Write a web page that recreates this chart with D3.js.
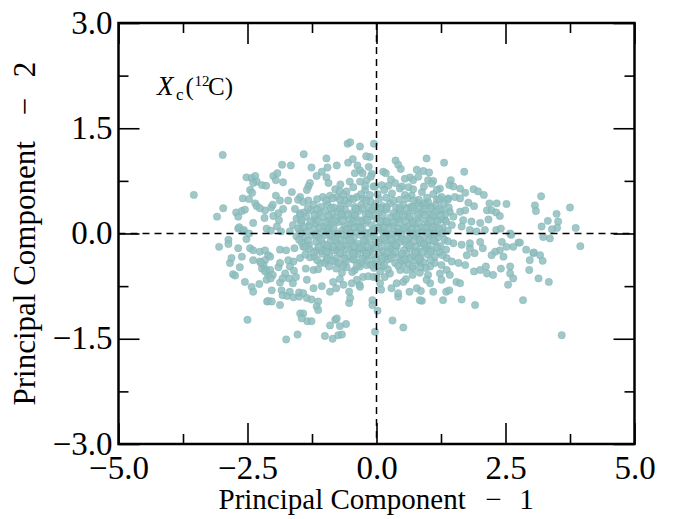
<!DOCTYPE html>
<html>
<head>
<meta charset="utf-8">
<script src="https://cdn.jsdelivr.net/npm/d3@7"></script>
<style>
  html, body { margin: 0; padding: 0; background: #fff; }
  svg { display: block; }
  text { font-family: "Liberation Serif", "DejaVu Serif", serif; fill: #000; }
</style>
</head>
<body>
<div id="chart"></div>
<script>
// ---- Data ----
const xMajorTicks = [-5, -2.5, 0, 2.5, 5];
const xMinorTicks = [-3.75, -1.25, 1.25, 3.75];
const yMajorTicks = [-3, -1.5, 0, 1.5, 3];
const yMinorTicks = [-2.25, -0.75, 0.75, 2.25];
const axisLabelText = "Principal Component";
const xLabelIndex = "1";
const yLabelIndex = "2";

// sparse / outer points [PC1, PC2]
const outerPoints = [
[-3.54,0.55],[-2.98,1.12],[-3.09,0.24],[-2.97,0.36],[-2.87,-0.09],[-2.87,-0.15],[-3.05,-0.19],[-2.72,0.30],[-2.68,0.24],[-2.61,0.32],
[-2.55,0.34],[-2.52,0.80],[-2.42,0.79],[-2.35,0.82],[-2.32,0.74],[-2.39,0.72],[-2.22,0.69],[-2.14,0.68],[-2.45,0.62],[-2.41,0.58],
[-2.59,0.50],[-2.47,0.49],[-2.35,0.43],[-2.32,0.39],[-2.16,0.33],[-2.26,0.36],[-2.39,0.15],[-2.68,0.07],[-2.58,0.03],[-2.52,-0.08],
[-2.68,-0.21],[-2.45,-0.21],[-2.39,-0.24],[-2.26,-0.26],[-2.16,-0.24],[-2.10,-0.31],[-2.26,-0.40],[-2.16,-0.38],[-2.06,-0.33],[-2.19,-0.45],
[-2.22,-0.50],[-2.13,-0.52],[-2.10,-0.59],[-2.84,-0.42],[-2.65,-0.48],[-2.78,-0.58],[-2.74,-0.60],[-2.55,-0.69],[-2.42,-0.76],[-2.39,-0.83],
[-2.27,-0.72],[-2.12,-0.97],[-2.50,-1.23],[-2.81,-0.35],[-2.61,-0.33],[-2.39,-0.38],[-2.24,-0.42],[-2.16,-0.54],[-2.06,-0.52],[-2.01,-0.59],
[-1.90,-0.48],[-2.13,-0.66],[-2.05,-0.64],[-1.87,-0.70],[-2.03,-0.81],[-2.10,-0.96],[-2.03,-0.97],[-1.87,-1.02],[-1.84,-0.81],[-1.82,-0.88],
[-1.73,-0.89],[-1.68,-0.83],[-1.69,-0.64],[-1.56,-0.62],[-1.62,-0.71],[-1.61,-0.91],[-1.50,-0.90],[-1.50,-0.84],[-1.42,-0.85],[-1.35,-0.92],
[-1.26,-0.94],[-1.13,-0.97],[-1.16,-1.04],[-1.13,-1.09],[-1.35,-0.66],[-1.22,-0.78],[-1.06,-0.75],[-0.90,-0.83],[-0.78,-0.78],[-1.48,-1.14],
[-1.42,-1.14],[-1.45,-1.21],[-1.34,-1.25],[-1.26,-1.25],[-1.75,-1.51],[-1.53,-1.44],[-1.00,-1.46],[-0.85,-1.50],[-0.90,-1.31],[-0.80,-1.23],
[-0.77,-1.21],[-0.71,-1.32],[-0.59,-1.29],[-0.74,-1.45],[-0.67,-1.44],[-0.53,-0.99],[-0.51,-0.92],[-0.53,-0.83],[-0.64,-0.73],[-0.48,-0.71],
[-0.33,-0.73],[-0.26,-0.62],[-0.16,-0.61],[-0.06,-0.62],[-0.08,-0.95],[-0.08,-1.02],[0.02,-1.10],[-0.03,-1.40],[-0.67,-0.56],[-0.58,-0.48],
[-0.42,-0.52],[-0.32,-0.47],[-0.19,-0.45],[-1.09,-0.42],[-0.97,-0.38],[-0.80,-0.40],[-1.22,-0.52],[-1.13,-0.51],[-1.37,-0.50],[-1.29,-0.34],
[-1.48,-0.35],[-1.61,-0.40],[-1.68,-0.47],[-1.60,-0.53],[-1.87,-0.42],[-1.71,-0.38],[-1.87,-0.23],[-1.75,-0.24],[-1.59,-0.21],[-1.42,-0.19],
[-1.16,-0.24],[-0.97,-0.21],[-0.77,-0.24],[-0.51,-0.21],[-0.26,-0.24],[-0.06,-0.21],[-1.77,-0.57],[-1.82,-0.64],[-0.38,-0.66],[-0.32,-0.76],
[-0.71,-0.65],[-0.84,-0.69],
[0.31,-1.24],[0.52,-1.34],[3.59,-1.45],[2.84,-0.95],[1.91,-1.02],[1.65,-0.94],[1.29,-0.95],[0.88,-0.96],[0.78,-0.78],[0.42,-0.90],
[0.42,-0.85],[0.64,-0.83],[0.86,-0.82],[1.10,-0.83],[1.35,-0.83],[1.41,-0.81],[0.29,-0.78],[0.39,-0.71],[0.52,-0.69],[0.57,-0.65],
[0.09,-0.80],[0.07,-0.71],[0.16,-0.62],[0.00,-0.62],[0.70,-0.59],[0.84,-0.56],[1.00,-0.59],[1.04,-0.71],[0.97,-0.66],[1.23,-0.57],
[1.36,-0.52],[1.42,-0.59],[1.26,-0.66],[1.55,-0.69],[1.62,-0.71],[1.59,-0.42],[1.72,-0.45],[1.89,-0.54],[2.01,-0.52],[2.14,-0.57],
[2.26,-0.59],[2.12,-0.47],[2.41,-0.50],[2.59,-0.47],[2.59,-0.57],[2.65,-0.64],[2.55,-0.73],[2.96,-0.52],[3.14,-0.64],[3.34,-0.69],
[2.97,-0.38],[3.04,-0.28],[3.17,-0.31],[3.22,-0.39],[2.90,-0.23],[2.75,-0.13],[2.65,-0.19],[2.52,-0.19],[2.46,-0.33],[2.39,-0.24],
[2.30,-0.26],[2.23,-0.31],[3.23,-0.05],[3.36,-0.07],[2.61,-0.02],[2.43,-0.12],[2.06,-0.21],[1.90,-0.28],[1.75,-0.31],[1.81,-0.21],
[2.01,-0.12],[1.81,-0.14],[1.65,-0.16],[1.49,-0.14],[1.35,-0.23],[1.36,-0.35],[1.46,-0.40],[1.13,-0.42],[1.26,-0.45],[1.04,-0.47],
[0.84,-0.42],[0.71,-0.50],[0.52,-0.42],[0.46,-0.52],[0.26,-0.57],[0.10,-0.47],[0.07,-0.54],[0.84,-0.95],
[3.19,0.53],[3.07,0.40],[3.09,0.32],[3.75,0.37],[3.49,0.28],[3.52,0.17],[3.50,0.08],[3.32,0.18],[3.20,0.10],[3.86,0.08],
[2.78,-0.13],[3.05,-0.27],[3.95,-0.18],[3.40,0.06],
[-0.05,1.28],[-0.13,1.09],[0.97,1.07],[1.31,1.01],[0.37,1.04],[0.42,0.98],[0.47,0.92],[1.70,0.88],[0.13,0.88],[0.18,0.86],
[0.78,0.91],[0.91,0.89],[1.02,0.87],[0.65,0.80],[0.71,0.76],[0.81,0.81],[1.00,0.76],[1.10,0.75],[1.07,0.71],[1.44,0.76],
[1.41,0.69],[1.49,0.67],[1.23,0.64],[1.17,0.62],[-0.03,0.67],[0.10,0.69],[0.23,0.68],[0.36,0.72],[0.49,0.67],[0.62,0.66],
[0.88,0.59],[0.71,0.63],[1.62,0.64],[1.72,0.58],[1.88,0.63],[1.97,0.60],[2.08,0.55],[1.10,0.56],[1.26,0.52],[1.39,0.50],
[1.52,0.52],[1.62,0.50],[1.78,0.44],[1.89,0.39],[2.14,0.33],[2.19,0.43],[2.33,0.43],[2.52,0.42],[2.23,0.33],[2.32,0.30],
[2.39,0.25],[2.32,0.05],[2.41,0.07],[2.59,0.00],[1.38,0.48],[1.17,0.48],[1.00,0.45],[0.91,0.43],[0.84,0.38],[1.07,0.38],
[1.26,0.33],[1.42,0.31],[1.62,0.31],[1.72,0.33],[1.49,0.24],[1.68,0.19],[1.84,0.17],[2.01,0.15],[2.17,0.20],[1.33,0.19],
[1.46,0.12],[1.65,0.10],[1.81,0.05],[1.94,0.03],[2.10,0.05],
[-0.56,1.28],[-0.51,1.30],[-0.32,1.24],[-1.41,1.13],[-0.20,1.10],[-0.97,1.07],[-1.83,0.98],[-1.66,0.97],[-1.26,0.94],[-0.95,0.94],
[-0.77,0.97],[-0.55,1.01],[-0.46,1.06],[-0.37,0.97],[-0.32,0.90],[-0.15,0.95],[-0.09,0.85],[-1.06,0.88],[-1.16,0.82],[-2.00,0.82],
[-1.92,0.86],[-1.95,0.76],[-1.81,0.73],[-0.97,0.80],[-0.93,0.72],[-1.29,0.72],[-1.32,0.67],[-1.35,0.62],[-0.52,0.74],[-0.42,0.86],
[-0.27,0.86],[-0.32,0.74],[-0.19,0.76],[-0.11,0.81],[-1.64,0.59],[-0.80,0.63],[-0.71,0.60],[-0.58,0.60],[-0.22,0.62],[-0.06,0.67],
[-1.95,0.54],[-1.87,0.47],[-1.48,0.52],[-1.52,0.48],[-1.71,0.47],[-1.04,0.52],[-0.90,0.54],[-0.77,0.52],[-0.64,0.55],[-0.51,0.50],
[-0.38,0.52],[-0.26,0.50],[-0.13,0.55],[-2.04,0.37],[-2.01,0.41],[-2.17,0.22],[-2.00,0.25],[-1.90,0.29],[-1.81,0.35],[-1.89,0.19],
[-1.58,0.35],[-1.48,0.29],[-1.42,0.45],[-1.32,0.47],[-2.66,0.09],[-2.57,0.05],[-2.47,0.00],[-2.13,0.07],[-2.05,0.04],[-1.93,0.10],
[-1.85,0.03],[-1.68,0.03],[-1.48,0.05]
];

// dense central cloud [PC1, PC2]
const corePoints = [
[-1.22,0.41],[-1.08,0.38],[-0.95,0.42],[-0.83,0.37],[-0.69,0.40],[-0.55,0.43],[-0.42,0.38],[-0.29,0.41],[-0.15,0.37],[-0.02,0.42],
[0.12,0.39],[0.26,0.43],[0.38,0.37],[0.52,0.41],[0.66,0.38],[0.79,0.44],[0.95,0.40],[1.15,0.41],[1.30,0.42],
[-1.40,0.30],[-1.27,0.33],[-1.12,0.29],[-0.99,0.32],[-0.86,0.28],[-0.74,0.31],[-0.61,0.34],[-0.48,0.29],[-0.35,0.32],[-0.21,0.28],
[-0.08,0.33],[0.05,0.30],[0.19,0.34],[0.33,0.29],[0.46,0.32],[0.60,0.28],[0.73,0.33],[0.88,0.30],[1.02,0.27],[1.16,0.31],[1.33,0.27],
[-1.55,0.21],[-1.36,0.24],[-1.20,0.20],[-1.06,0.23],[-0.92,0.19],[-0.79,0.22],[-0.66,0.25],[-0.53,0.20],[-0.40,0.23],[-0.27,0.19],
[-0.13,0.24],[0.00,0.21],[0.14,0.18],[0.27,0.23],[0.41,0.20],[0.54,0.24],[0.68,0.19],[0.82,0.22],[0.97,0.18],[1.10,0.23],[1.24,0.20],
[-1.62,0.12],[-1.46,0.15],[-1.31,0.11],[-1.17,0.14],[-1.03,0.10],[-0.89,0.13],[-0.75,0.16],[-0.62,0.11],[-0.48,0.14],[-0.35,0.10],
[-0.22,0.15],[-0.09,0.12],[0.05,0.09],[0.19,0.14],[0.32,0.11],[0.46,0.15],[0.60,0.10],[0.73,0.13],[0.87,0.09],[1.00,0.14],[1.14,0.11],[1.28,0.08],
[-1.35,0.03],[-1.21,0.06],[-1.07,0.02],[-0.94,0.05],[-0.80,0.01],[-0.67,0.04],[-0.54,0.07],[-0.40,0.02],[-0.27,0.05],[-0.14,0.01],
[0.10,0.04],[0.24,0.07],[0.38,0.02],[0.51,0.05],[0.65,0.01],[0.78,0.06],[0.92,0.03],[1.06,0.06],[1.20,0.01],[1.38,0.04],
[-1.55,-0.04],[-1.40,-0.07],[-1.26,-0.03],[-1.12,-0.06],[-0.98,-0.02],[-0.85,-0.05],[-0.71,-0.08],[-0.58,-0.03],[-0.44,-0.06],[-0.31,-0.02],
[-0.18,-0.07],[-0.05,-0.04],[0.09,-0.08],[0.22,-0.03],[0.36,-0.06],[0.49,-0.02],[0.63,-0.07],[0.77,-0.04],[0.90,-0.08],[1.04,-0.03],[1.18,-0.06],[1.32,-0.09],
[-1.45,-0.13],[-1.31,-0.16],[-1.17,-0.12],[-1.03,-0.15],[-0.89,-0.11],[-0.76,-0.14],[-0.63,-0.17],[-0.49,-0.12],[-0.36,-0.15],[-0.22,-0.11],
[-0.09,-0.16],[0.04,-0.13],[0.18,-0.10],[0.31,-0.15],[0.45,-0.12],[0.58,-0.16],[0.72,-0.11],[0.86,-0.14],[0.99,-0.17],[1.13,-0.12],[1.24,-0.18],
[-1.30,-0.22],[-1.06,-0.25],[-0.92,-0.21],[-0.82,-0.24],[-0.68,-0.20],[-0.55,-0.23],[-0.41,-0.26],[-0.28,-0.21],[-0.15,-0.24],[-0.01,-0.20],
[0.12,-0.25],[0.26,-0.22],[0.39,-0.19],[0.53,-0.24],[0.66,-0.21],[0.80,-0.25],[0.94,-0.20],[1.08,-0.23],[1.22,-0.27],
[-1.38,-0.30],[-1.20,-0.33],[-1.05,-0.29],[-0.91,-0.32],[-0.77,-0.35],[-0.64,-0.30],[-0.50,-0.33],[-0.37,-0.29],[-0.23,-0.34],[-0.10,-0.31],
[0.04,-0.28],[0.17,-0.33],[0.31,-0.30],[0.44,-0.34],[0.58,-0.29],[0.71,-0.32],[0.85,-0.35],[0.99,-0.30],[1.13,-0.33],
[-1.00,-0.42],[-0.86,-0.39],[-0.72,-0.43],[-0.59,-0.40],[-0.45,-0.37],[-0.32,-0.42],[-0.18,-0.39],[-0.05,-0.43],[0.09,-0.40],[0.22,-0.37],
[0.36,-0.42],[0.49,-0.39],[0.63,-0.43],[0.77,-0.38],[0.91,-0.41],
[-0.78,-0.50],[-0.47,-0.55],[-0.05,-0.49],[0.22,-0.51],[0.58,-0.52],[0.95,-0.49],
[-0.88,0.36],[-0.62,0.47],[-0.40,0.35],[-0.12,0.46],[0.08,0.36],[0.33,0.47],[0.58,0.35],[0.82,0.48],[1.05,0.36],
[-0.80,0.18],[-0.55,0.27],[-0.30,0.17],[-0.05,0.27],[0.20,0.17],[0.44,0.27],[0.70,0.16],[0.94,0.26],[1.18,0.17],
[-0.92,0.08],[-0.68,-0.01],[-0.42,0.09],[-0.20,-0.00],[0.02,0.08],[0.28,-0.01],[0.55,0.08],[0.80,-0.00],[1.08,0.09],
[-0.85,-0.19],[-0.58,-0.10],[-0.33,-0.20],[-0.03,-0.09],[0.24,-0.18],[0.50,-0.08],[0.76,-0.19],[1.02,-0.09],
[-0.70,-0.28],[-0.44,-0.37],[-0.16,-0.27],[0.10,-0.36],[0.37,-0.26],[0.64,-0.36],[0.90,-0.26],
[-0.30,0.56],[0.02,0.56],[0.30,0.57],[0.55,0.55],[0.15,0.62],[0.45,0.64],[0.68,0.54],[0.92,0.67],[-0.45,0.66],[-0.70,0.70],
[0.28,0.77],[0.55,0.78],[-0.22,0.68],
[-1.15,0.49],[-0.98,0.47],[-0.85,0.50],[-0.71,0.48],[-0.45,0.49],[-0.20,0.47],[0.05,0.49],[0.19,0.51],[0.45,0.48],[0.60,0.50],[0.72,0.47],[0.98,0.51],[1.22,0.49],
[-1.33,0.36],[-1.15,0.34],[-0.70,0.35],[-0.27,0.36],[-0.03,0.38],[0.20,0.37],[0.45,0.36],[0.70,0.37],[0.92,0.35],[1.22,0.35],[1.40,0.37],
[-1.48,0.26],[-1.20,0.26],[-0.93,0.25],[-0.68,0.28],[-0.42,0.26],[-0.15,0.27],[0.12,0.26],[0.38,0.25],[0.65,0.24],[0.80,0.27],[1.10,0.26],[1.25,0.25],
[-1.45,0.19],[-1.28,0.17],[-1.13,0.18],[-0.98,0.16],[-0.65,0.18],[-0.45,0.17],[-0.18,0.19],[0.07,0.17],[0.33,0.16],[0.55,0.18],[0.83,0.16],[1.05,0.18],[1.35,0.17],
[-1.52,0.07],[-1.40,0.09],[-1.10,0.08],[-0.83,0.07],[-0.58,0.06],[-0.31,0.07],[-0.05,0.06],[0.15,0.08],[0.42,0.07],[0.68,0.06],[0.95,0.08],[1.22,0.06],
[-1.47,0.00],[-1.18,-0.01],[-0.92,-0.01],[-0.50,0.00],[-0.10,0.02],[0.14,0.00],[0.42,0.01],[0.70,-0.01],[0.98,0.01],[1.12,-0.01],[1.28,0.00],
[-1.50,-0.09],[-1.33,-0.10],[-1.07,-0.09],[-0.80,-0.09],[-0.52,-0.09],[-0.25,-0.10],[0.15,-0.07],[0.30,-0.09],[0.57,-0.10],[0.84,-0.09],[1.10,-0.10],[1.38,-0.11],
[-1.38,-0.19],[-1.12,-0.19],[-0.95,-0.17],[-0.70,-0.18],[-0.43,-0.18],[-0.17,-0.19],[0.10,-0.18],[0.37,-0.17],[0.64,-0.17],[0.92,-0.15],[1.18,-0.20],
[-1.22,-0.27],[-0.97,-0.26],[-0.45,-0.29],[-0.20,-0.29],[0.21,-0.27],[0.49,-0.29],[0.75,-0.27],[1.05,-0.26],[1.28,-0.31],
[-1.15,-0.38],[-0.95,-0.36],[-0.62,-0.36],[-0.28,-0.36],[-0.02,-0.37],[0.28,-0.35],[0.55,-0.37],[0.82,-0.36],[1.05,-0.38],
[-0.92,-0.47],[-0.65,-0.46],[-0.38,-0.46],[-0.10,-0.45],[0.15,-0.45],[0.42,-0.46],[0.70,-0.47],[0.85,-0.48]
];

// ---- Layout ----
const W = 680, H = 519;
const frame = { left: 118.5, right: 634.5, top: 23, bottom: 444 };

const svg = d3.select("#chart").append("svg").attr("width", W).attr("height", H);

const x = d3.scaleLinear().domain([-5, 5]).range([frame.left, frame.right]);
const y = d3.scaleLinear().domain([-3, 3]).range([frame.bottom, frame.top]);

const fmt = d3.format(".1f");
const majorLen = 21, minorLen = 10;

// points
const allPoints = outerPoints.concat(corePoints);
svg.append("g")
  .selectAll("circle")
  .data(allPoints)
  .join("circle")
  .attr("cx", d => x(d[0]))
  .attr("cy", d => y(d[1]))
  .attr("r", 3.7)
  .attr("fill", "rgb(143,190,192)")
  .attr("fill-opacity", 0.85)
  .attr("stroke", "rgb(118,170,172)")
  .attr("stroke-opacity", 0.6)
  .attr("stroke-width", 0.6);

// dashed zero lines
svg.append("line")
  .attr("x1", x(0)).attr("x2", x(0))
  .attr("y1", frame.top).attr("y2", frame.bottom)
  .attr("stroke", "#000").attr("stroke-width", 1.5).attr("stroke-dasharray", "7,5");
svg.append("line")
  .attr("x1", frame.left).attr("x2", frame.right)
  .attr("y1", y(0)).attr("y2", y(0))
  .attr("stroke", "#000").attr("stroke-width", 1.5).attr("stroke-dasharray", "7,5");

function styleAxis(g) {
  g.select(".domain").remove();
  g.selectAll(".tick line").attr("stroke", "#000").attr("stroke-width", 1.6);
}

// bottom axis (major with labels)
const gB = svg.append("g").attr("transform", `translate(0,${frame.bottom})`)
  .call(d3.axisBottom(x).tickValues(xMajorTicks).tickSize(-majorLen).tickFormat(fmt));
styleAxis(gB);
gB.selectAll(".tick text").attr("y", 0).attr("dy", 35).attr("font-size", 33)
  .attr("font-family", "Liberation Serif, serif");
svg.append("g").attr("transform", `translate(0,${frame.bottom})`)
  .call(d3.axisBottom(x).tickValues(xMinorTicks).tickSize(-minorLen).tickFormat(""))
  .call(styleAxis);

// top axis
svg.append("g").attr("transform", `translate(0,${frame.top})`)
  .call(d3.axisTop(x).tickValues(xMajorTicks).tickSize(-majorLen).tickFormat(""))
  .call(styleAxis);
svg.append("g").attr("transform", `translate(0,${frame.top})`)
  .call(d3.axisTop(x).tickValues(xMinorTicks).tickSize(-minorLen).tickFormat(""))
  .call(styleAxis);

// left axis (major with labels)
const gL = svg.append("g").attr("transform", `translate(${frame.left},0)`)
  .call(d3.axisLeft(y).tickValues(yMajorTicks).tickSize(-majorLen).tickFormat(fmt));
styleAxis(gL);
gL.selectAll(".tick text").attr("x", -6).attr("dy", 10).attr("font-size", 33)
  .attr("text-anchor", "end").attr("font-family", "Liberation Serif, serif");
svg.append("g").attr("transform", `translate(${frame.left},0)`)
  .call(d3.axisLeft(y).tickValues(yMinorTicks).tickSize(-minorLen).tickFormat(""))
  .call(styleAxis);

// right axis
svg.append("g").attr("transform", `translate(${frame.right},0)`)
  .call(d3.axisRight(y).tickValues(yMajorTicks).tickSize(-majorLen).tickFormat(""))
  .call(styleAxis);
svg.append("g").attr("transform", `translate(${frame.right},0)`)
  .call(d3.axisRight(y).tickValues(yMinorTicks).tickSize(-minorLen).tickFormat(""))
  .call(styleAxis);

// frame
svg.append("rect")
  .attr("x", frame.left).attr("y", frame.top)
  .attr("width", frame.right - frame.left).attr("height", frame.bottom - frame.top)
  .attr("fill", "none").attr("stroke", "#000").attr("stroke-width", 2.5);

// axis labels: "Principal Component  −  n", pieces placed relative to the axis centre
function axisLabel(g, idx, size, start, minusAt, idxAt) {
  const t = g.append("text").attr("font-size", size);
  t.append("tspan").attr("x", start).attr("text-anchor", "start").text(axisLabelText);
  t.append("tspan").attr("x", minusAt).attr("text-anchor", "middle").text("\u2212");
  t.append("tspan").attr("x", idxAt).attr("text-anchor", "middle").text(idx);
}
const cx = (frame.left + frame.right) / 2, cy = (frame.top + frame.bottom) / 2;
axisLabel(svg.append("g").attr("transform", `translate(${cx},509)`), xLabelIndex, 29, -158, 117, 150);
axisLabel(svg.append("g").attr("transform", `translate(35,${cy}) rotate(-90)`), yLabelIndex, 31, -172, 127, 164);

// annotation X_c(12C)
const ann = svg.append("text").attr("y", 94.5).attr("font-size", 25);
ann.append("tspan").attr("x", 157).attr("font-style", "italic").attr("font-size", 27).text("X");
ann.append("tspan").attr("x", 176).attr("dy", 5).attr("font-size", 17).text("c");
ann.append("tspan").attr("x", 185.5).attr("dy", -5).text("(");
ann.append("tspan").attr("x", 194.5).attr("dy", -9).attr("font-size", 15).text("12");
ann.append("tspan").attr("x", 208).attr("dy", 9).text("C)");
</script>
</body>
</html>
